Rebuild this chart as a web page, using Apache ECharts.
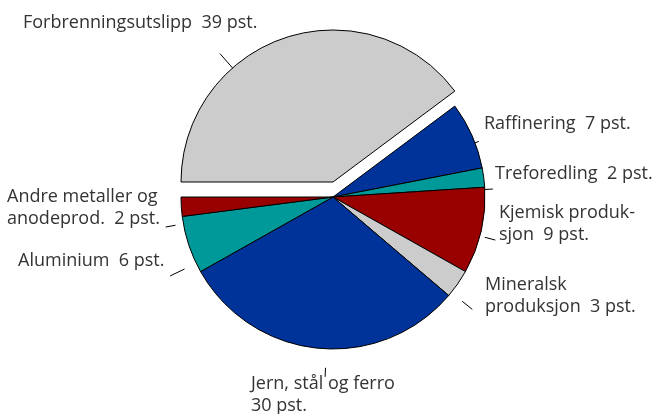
<!DOCTYPE html>
<html>
<head>
<meta charset="utf-8">
<script src="https://cdn.jsdelivr.net/npm/echarts@6/dist/echarts.min.js"></script>
<style>
html, body { margin: 0; padding: 0; background: #fff; }
#chart { width: 658px; height: 414px; }
</style>
</head>
<body>
<div id="chart"></div>
<script>
var categories = ['Forbrenningsutslipp', 'Raffinering', 'Treforedling', 'Kjemisk produk-\nsjon',
	'Mineralsk\nproduksjon', 'Jern, stål og ferro', 'Aluminium', 'Andre metaller og\nanodeprod.'];
var shares = [39, 7, 2, 9, 3, 30, 6, 2];
var valueSep = ['  ', '  ', '  ', '  ', '  ', '\n', '  ', '  '];
var sliceColors = ['#cccccc', '#003399', '#009999', '#990000', '#cccccc', '#003399', '#009999', '#990000'];

var pieRadius = 152;
// label top-left corners
var labelPos = [[23, 12], [484, 113], [495, 163], [499, 202], [485, 274], [251, 373], [18, 250], [7, 186]];
// tick start/end, px outside the pie edge
var tickSpan = [[-1, 19], [-5, 4], [-1, 8], [5, 16], [14, 27], [19, 28], [13, 29], [8, 18]];
// tick turned away from the slice middle, degrees (counterclockwise)
var tickTurn = [23, -3, -4.5, -2, -4, 3, 7.5, 6.5];

function buildData(explodedOnly) {
	return shares.map(function(v, i) {
		var show = (i === 0) === explodedOnly;
		return {
			value : v,
			name : categories[i],
			itemStyle : show ? { color : sliceColors[i], borderColor : '#000', borderWidth : 1 }
					: { color : 'rgba(0,0,0,0)', borderWidth : 0 },
			label : { show : show },
			labelLine : { show : show }
		};
	});
}

function placeLabel(params) {
	var i = params.dataIndex;
	var res = { x : labelPos[i][0], y : labelPos[i][1], align : 'left', verticalAlign : 'top' };
	var pts = params.labelLinePoints;
	if (pts && pts.length > 1) {
		var dx = pts[1][0] - pts[0][0], dy = pts[1][1] - pts[0][1];
		var len = Math.sqrt(dx * dx + dy * dy) || 1;
		var ux = dx / len, uy = dy / len;
		var cx = pts[0][0] - ux * pieRadius, cy = pts[0][1] - uy * pieRadius;
		var a = tickTurn[i] * Math.PI / 180;
		var vx = ux * Math.cos(a) + uy * Math.sin(a);
		var vy = -ux * Math.sin(a) + uy * Math.cos(a);
		var s = tickSpan[i];
		res.labelLinePoints = [
			[cx + vx * (pieRadius + s[0]), cy + vy * (pieRadius + s[0])],
			[cx + vx * (pieRadius + s[1]), cy + vy * (pieRadius + s[1])]
		];
	}
	return res;
}

function pieSeries(center, explodedOnly) {
	return {
		type : 'pie',
		center : center,
		radius : pieRadius,
		startAngle : 180,
		clockwise : true,
		avoidLabelOverlap : false,
		silent : true,
		emphasis : { scale : false },
		data : buildData(explodedOnly),
		label : {
			position : 'outside',
			color : '#333',
			fontFamily : 'Open Sans',
			fontSize : 18,
			lineHeight : 22,
			formatter : function(p) {
				return p.name + valueSep[p.dataIndex] + p.value + ' pst.';
			}
		},
		labelLine : { length : 10, length2 : 0, smooth : false, lineStyle : { color : '#000', width : 1 } },
		labelLayout : placeLabel
	};
}

var chart = echarts.init(document.getElementById('chart'));
chart.setOption({
	animation : false,
	backgroundColor : '#fff',
	series : [ pieSeries([333, 197], false), pieSeries([333, 182], true) ]
});
</script>
</body>
</html>
